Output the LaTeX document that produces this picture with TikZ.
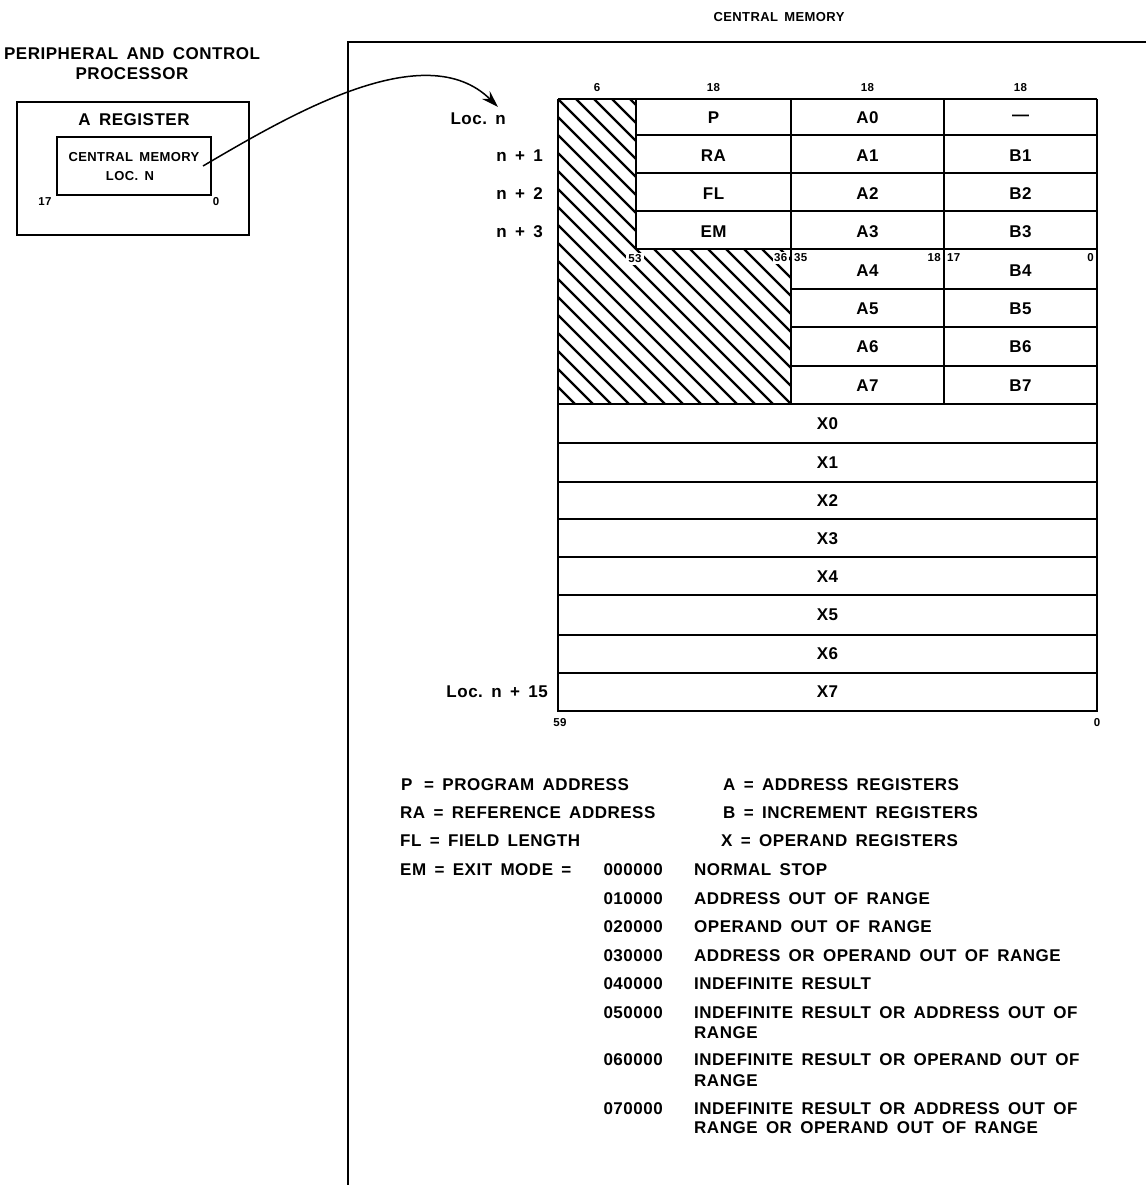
\documentclass[tikz,border=0pt]{standalone}
\usepackage{fontspec}
\setmainfont{Liberation Sans}[LetterSpace=3, WordSpace=1.6]
\usetikzlibrary{arrows.meta}
\tikzset{
  big/.style={font=\fontsize{17}{20}\selectfont\bfseries, inner sep=0pt},
  mid/.style={font=\fontsize{13}{15}\selectfont\bfseries, inner sep=0pt},
  tiny/.style={font=\fontsize{11.5}{13}\selectfont\bfseries, inner sep=0pt},
  grid/.style={line width=2.4pt},
  frame/.style={line width=2pt},
  hatchline/.style={line width=2.2pt},
  boxnode/.style={draw, line width=2pt, inner sep=0pt},
  link/.style={line width=1.5pt, -{Stealth[length=17pt,width=11pt]}},
}
\begin{document}
\begin{tikzpicture}[x=1pt,y=-1pt]
\useasboundingbox (0,0) rectangle (1146,1185);
% ---- titles
\node[mid] (cmtitle) at (779,17) {CENTRAL MEMORY};
\node[big] (ppt1) at (132,54) {PERIPHERAL AND CONTROL};
\node[big] (ppt2) at (132,74) {PROCESSOR};
% ---- central memory frame
\draw[frame] (1146,42) -- (348,42) -- (348,1185);
% ---- PPU box
\node[boxnode, minimum width=232pt, minimum height=133pt] (ppu) at (133,168.5) {};
\node[big] (areg) at (134,120) {A REGISTER};
\node[boxnode, line width=1.6pt, minimum width=154pt, minimum height=58pt] (inner) at (134,166) {};
\node[mid] (cmloc1) at (134,157) {CENTRAL MEMORY};
\node[mid] (cmloc2) at (130,176) {LOC. N};
\node[tiny] (b17) at (45,202) {17};
\node[tiny] (b0a) at (216,202) {0};
% ---- arrow
\coordinate (arrS) at (203,166);
\coordinate (arrE) at (498,107);
\draw[link] (arrS) .. controls (290,115) and (425,35) .. (arrE);
% ---- hatching
\begin{scope}
\clip (558,99) -- (636,99) -- (636,249) -- (791,249) -- (791,404) -- (558,404) -- cycle;
\foreach \k in {0,...,31} {
  \draw[hatchline] ({558+18*(\k-17)},99) -- ++(330,330);
}
\end{scope}
% ---- grid
\def\XA{558}\def\XB{636}\def\XC{791}\def\XD{944}\def\XE{1097}
\draw[grid] (\XA,99) -- (\XE,99);
\draw[grid] (\XA,99) -- (\XA,711) -- (\XE,711) -- (\XE,99);
\foreach \y in {135,173,211,249} \draw[grid] (\XB,\y) -- (\XE,\y);
\foreach \y in {289,327,366} \draw[grid] (\XC,\y) -- (\XE,\y);
\foreach \y in {404,443,482,519,557,595,635,673} \draw[grid] (\XA,\y) -- (\XE,\y);
\draw[grid] (\XB,99) -- (\XB,249);
\draw[grid] (\XC,99) -- (\XC,404);
\draw[grid] (\XD,99) -- (\XD,404);
% ---- header widths
\node[tiny] (w6) at (597,88) {6};
\node[tiny] (w18a) at (713.5,88) {18};
\node[tiny] (w18b) at (867.5,88) {18};
\node[tiny] (w18c) at (1020.5,88) {18};
% ---- row labels
\node[big, anchor=east] (locn) at (506,119) {Loc.\ n};
\node[big, anchor=east] (n1) at (543,156) {n + 1};
\node[big, anchor=east] (n2) at (543,194) {n + 2};
\node[big, anchor=east] (n3) at (543,232) {n + 3};
\node[big, anchor=east] (n15) at (548,692) {Loc.\ n + 15};
% ---- cells
\node[big] (cP)  at (713.5,118) {P};
\node[big] (cRA) at (713.5,156) {RA};
\node[big] (cFL) at (713.5,194) {FL};
\node[big] (cEM) at (713.5,232) {EM};
\node[big] (cA0) at (867.5,118) {A0};
\node[big] (cA1) at (867.5,156) {A1};
\node[big] (cA2) at (867.5,194) {A2};
\node[big] (cA3) at (867.5,232) {A3};
\node[big] (cA4) at (867.5,271) {A4};
\node[big] (cA5) at (867.5,309) {A5};
\node[big] (cA6) at (867.5,347) {A6};
\node[big] (cA7) at (867.5,386) {A7};
\node[big] (cB0) at (1020.5,118) {---};
\node[big] (cB1) at (1020.5,156) {B1};
\node[big] (cB2) at (1020.5,194) {B2};
\node[big] (cB3) at (1020.5,232) {B3};
\node[big] (cB4) at (1020.5,271) {B4};
\node[big] (cB5) at (1020.5,309) {B5};
\node[big] (cB6) at (1020.5,347) {B6};
\node[big] (cB7) at (1020.5,386) {B7};
\node[big] (cX0) at (827.5,424) {X0};
\node[big] (cX1) at (827.5,463) {X1};
\node[big] (cX2) at (827.5,501) {X2};
\node[big] (cX3) at (827.5,539) {X3};
\node[big] (cX4) at (827.5,577) {X4};
\node[big] (cX5) at (827.5,615) {X5};
\node[big] (cX6) at (827.5,654) {X6};
\node[big] (cX7) at (827.5,692) {X7};
% ---- bit numbers
\node[tiny, fill=white, inner sep=2pt] (b53) at (635,259) {53};
\node[tiny, fill=white, inner sep=1.5pt, anchor=east] (b36) at (789,258) {36};
\node[tiny, anchor=west] (b35) at (794,258) {35};
\node[tiny, anchor=east] (b18) at (941,258) {18};
\node[tiny, anchor=west] (b17b) at (947,258) {17};
\node[tiny, anchor=east] (b0b) at (1094,258) {0};
\node[tiny] (b59) at (560,723) {59};
\node[tiny] (b0c) at (1097,723) {0};
% ---- legend
\node[big, anchor=base west] (lP) at (401,790) {P};
\node[big, anchor=base west] (lPd) at (424,790) {= PROGRAM ADDRESS};
\node[big, anchor=base west] (lRA) at (400,818) {RA = REFERENCE ADDRESS};
\node[big, anchor=base west] (lFL) at (400,846) {FL = FIELD LENGTH};
\node[big, anchor=base west] (lEM) at (400,875) {EM = EXIT MODE =};
\node[big, anchor=base west] (lA) at (723,790) {A = ADDRESS REGISTERS};
\node[big, anchor=base west] (lB) at (723,818) {B = INCREMENT REGISTERS};
\node[big, anchor=base west] (lX) at (721,846) {X = OPERAND REGISTERS};
% codes
\node[big, anchor=base east] (k0) at (663,875) {000000};
\node[big, anchor=base east] (k1) at (663,904) {010000};
\node[big, anchor=base east] (k2) at (663,932) {020000};
\node[big, anchor=base east] (k3) at (663,961) {030000};
\node[big, anchor=base east] (k4) at (663,989) {040000};
\node[big, anchor=base east] (k5) at (663,1018) {050000};
\node[big, anchor=base east] (k6) at (663,1065) {060000};
\node[big, anchor=base east] (k7) at (663,1114) {070000};
% descriptions
\node[big, anchor=base west] (d0) at (694,875) {NORMAL STOP};
\node[big, anchor=base west] (d1) at (694,904) {ADDRESS OUT OF RANGE};
\node[big, anchor=base west] (d2) at (694,932) {OPERAND OUT OF RANGE};
\node[big, anchor=base west] (d3) at (694,961) {ADDRESS OR OPERAND OUT OF RANGE};
\node[big, anchor=base west] (d4) at (694,989) {INDEFINITE RESULT};
\node[big, anchor=base west] (d5) at (694,1018) {INDEFINITE RESULT OR ADDRESS OUT OF};
\node[big, anchor=base west] (d5b) at (694,1038) {RANGE};
\node[big, anchor=base west] (d6) at (694,1065) {INDEFINITE RESULT OR OPERAND OUT OF};
\node[big, anchor=base west] (d6b) at (694,1086) {RANGE};
\node[big, anchor=base west] (d7) at (694,1114) {INDEFINITE RESULT OR ADDRESS OUT OF};
\node[big, anchor=base west] (d7b) at (694,1133) {RANGE OR OPERAND OUT OF RANGE};
\end{tikzpicture}
\end{document}
